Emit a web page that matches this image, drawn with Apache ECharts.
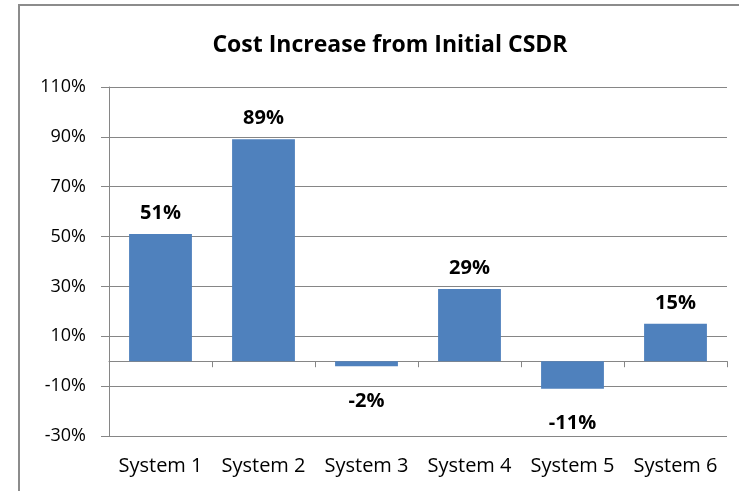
<!DOCTYPE html>
<html>
<head>
<meta charset="utf-8">
<script src="https://cdn.jsdelivr.net/npm/echarts@6/dist/echarts.min.js"></script>
<style>
  html, body { margin: 0; padding: 0; background: #fff; }
  #chart { width: 739px; height: 491px; }
</style>
</head>
<body>
<div id="chart"></div>
<script>
// Cost growth per system relative to the initial CSDR estimate (percent)
const categories = ['System 1', 'System 2', 'System 3', 'System 4', 'System 5', 'System 6'];
const costIncrease = [51, 89, -2, 29, -11, 15];
const yMin = -30;
const yMax = 110;
const yStep = 20;

const FONT = '"Open Sans", "Liberation Sans", sans-serif';
const GRID_GRAY = '#868686';

const barData = costIncrease.map(v => ({
  value: v,
  label: v >= 0
    ? { position: 'top', distance: 11 }
    : { position: 'bottom', distance: 25 }
}));

const chart = echarts.init(document.getElementById('chart'), null, { renderer: 'canvas' });

chart.setOption({
  animation: false,
  backgroundColor: '#fff',
  title: {
    text: 'Cost Increase from Initial CSDR',
    left: 385,
    top: 29,
    textAlign: 'center',
    textStyle: { fontFamily: FONT, fontSize: 23, fontWeight: 'bold', color: '#000' }
  },
  graphic: [{
    type: 'rect',
    shape: { x: 19, y: 5, width: 760, height: 520 },
    style: { fill: 'none', stroke: '#8c8c8c', lineWidth: 2 },
    silent: true,
    z: -1
  }],
  grid: { left: 109, right: 12, top: 87, bottom: 55, containLabel: false },
  xAxis: [{
    // zero line with the category ticks
    type: 'category',
    data: categories,
    position: 'bottom',
    axisLine: { onZero: true, lineStyle: { color: GRID_GRAY, width: 1 } },
    axisTick: { show: true, length: 6, inside: false, lineStyle: { color: GRID_GRAY } },
    axisLabel: { show: false },
    splitLine: { show: false }
  }, {
    // category names along the bottom edge
    type: 'category',
    data: categories,
    position: 'bottom',
    axisLine: { show: false, onZero: false },
    axisTick: { show: false },
    axisLabel: { interval: 0, hideOverlap: false, margin: 20, fontFamily: FONT, fontSize: 20, color: '#000' },
    splitLine: { show: false }
  }],
  yAxis: {
    type: 'value',
    min: yMin,
    max: yMax,
    interval: yStep,
    axisLine: { show: true, lineStyle: { color: GRID_GRAY, width: 1 } },
    axisTick: { show: true, length: 8, lineStyle: { color: GRID_GRAY } },
    axisLabel: {
      formatter: '{value}%',
      margin: 23,
      fontFamily: FONT,
      fontSize: 18,
      color: '#000'
    },
    splitLine: { show: true, lineStyle: { color: GRID_GRAY, width: 1 } }
  },
  series: [{
    type: 'bar',
    xAxisIndex: 0,
    data: barData,
    barWidth: '61%',
    itemStyle: { color: '#4F81BD' },
    label: {
      show: true,
      formatter: p => p.value + '%',
      fontFamily: FONT,
      fontSize: 20,
      fontWeight: 'bold',
      color: '#000'
    }
  }]
});
</script>
</body>
</html>
